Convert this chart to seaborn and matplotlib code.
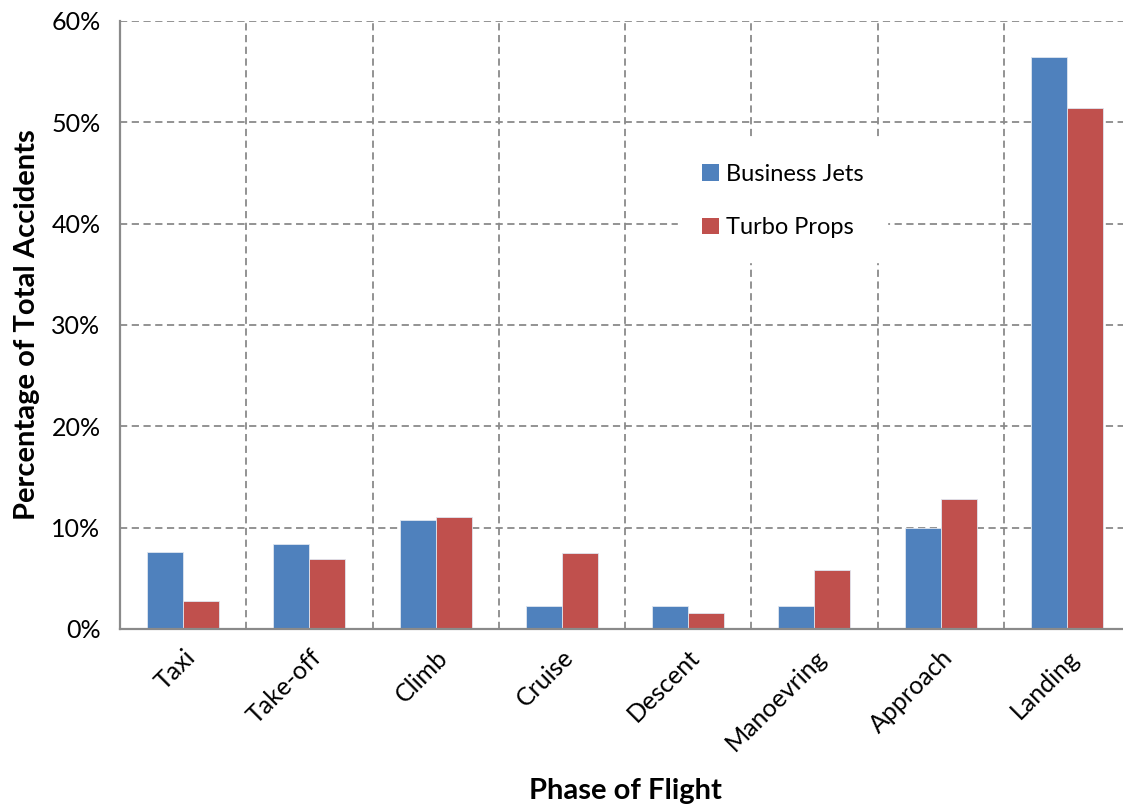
import matplotlib
matplotlib.use("Agg")
import matplotlib.pyplot as plt
import matplotlib.ticker as mticker
import numpy as np
import pandas as pd
import seaborn as sns

# Share of total accidents by phase of flight (percent)
phases = ["Taxi", "Take-off", "Climb", "Cruise", "Descent", "Manoevring", "Approach", "Landing"]
business_jets = [7.6, 8.4, 10.75, 2.3, 2.3, 2.3, 10.0, 56.4]
turbo_props = [2.8, 6.9, 11.05, 7.5, 1.6, 5.8, 12.8, 51.4]
series_names = ["Business Jets", "Turbo Props"]
series_colors = ["#4F81BD", "#C0504D"]

df = pd.DataFrame({
    "phase": phases * 2,
    "share": business_jets + turbo_props,
    "fleet": [series_names[0]] * len(phases) + [series_names[1]] * len(phases),
})

sns.set_theme(style="white")
plt.rcParams["font.family"] = ["Lato", "DejaVu Sans"]
plt.rcParams["text.color"] = "black"
plt.rcParams["axes.labelcolor"] = "black"

fig = plt.figure(figsize=(11.23, 8.08), dpi=100)
ax = fig.add_axes([120 / 1123, 179 / 808, 1010 / 1123, 608 / 808])

sns.barplot(data=df, x="phase", y="share", hue="fleet", order=phases,
            hue_order=series_names, palette=series_colors, width=0.57,
            edgecolor="#dfe6f0", linewidth=0.6, saturation=1, ax=ax, zorder=3)

grid_col = "#8a8a8a"
ax.set_ylim(0, 60)
ax.set_xlim(-0.5, len(phases) - 0.5)
ax.yaxis.set_major_locator(mticker.MultipleLocator(10))
ax.yaxis.set_major_formatter(mticker.FuncFormatter(lambda v, p: f"{v:.0f}%"))

# Category boundaries carry the ticks and the vertical grid
ax.set_xticks(np.arange(len(phases)))
ax.set_xticks(np.arange(-0.5, len(phases)), minor=True)
ax.tick_params(axis="x", which="major", length=0, pad=12, labelsize=18, colors="black")
ax.tick_params(axis="x", which="minor", length=9, width=1.5, color=grid_col, direction="out")
ax.tick_params(axis="y", which="major", length=9, width=1.5, color=grid_col, direction="out",
               labelsize=18, colors="black", pad=5)
ax.tick_params(axis="y", labelcolor="black")
plt.setp(ax.get_xticklabels(), rotation=45, ha="right", rotation_mode="anchor")

ax.grid(False)
ax.grid(axis="y", which="major", linestyle=(0, (4, 2.5)), color=grid_col, linewidth=1.3, zorder=0)
ax.grid(axis="x", which="minor", linestyle=(0, (4, 2.5)), color=grid_col, linewidth=1.3, zorder=0)
ax.set_axisbelow(True)

for side in ["top", "right"]:
    ax.spines[side].set_visible(False)
for side in ["left", "bottom"]:
    ax.spines[side].set_color(grid_col)
    ax.spines[side].set_linewidth(1.6)
    ax.spines[side].set_zorder(4)

ax.set_xlabel("Phase of Flight", fontsize=21, fontweight="bold", color="black")
ax.set_ylabel("Percentage of Total Accidents", fontsize=21, fontweight="bold", color="black")
ax.xaxis.set_label_coords(0.5, -(791 - 629) / 608, transform=ax.transAxes)
ax.xaxis.label.set_va("center")
ax.yaxis.set_label_coords(-(120 - 27) / 1010, 0.5, transform=ax.transAxes)
ax.yaxis.label.set_va("center")

leg = ax.legend(loc="center left", bbox_to_anchor=(0.541, 0.704), frameon=True, fontsize=17,
                handlelength=0.72, handleheight=0.72, handletextpad=0.3, labelspacing=1.38,
                borderpad=1.0, fancybox=False)
leg.get_frame().set_facecolor("white")
leg.get_frame().set_edgecolor("white")
leg.get_frame().set_alpha(1)
leg.set_zorder(5)
for h in leg.legend_handles:
    h.set_edgecolor("none")
for t in leg.get_texts():
    t.set_color("black")

fig.savefig("out.png", dpi=100, facecolor="white")
